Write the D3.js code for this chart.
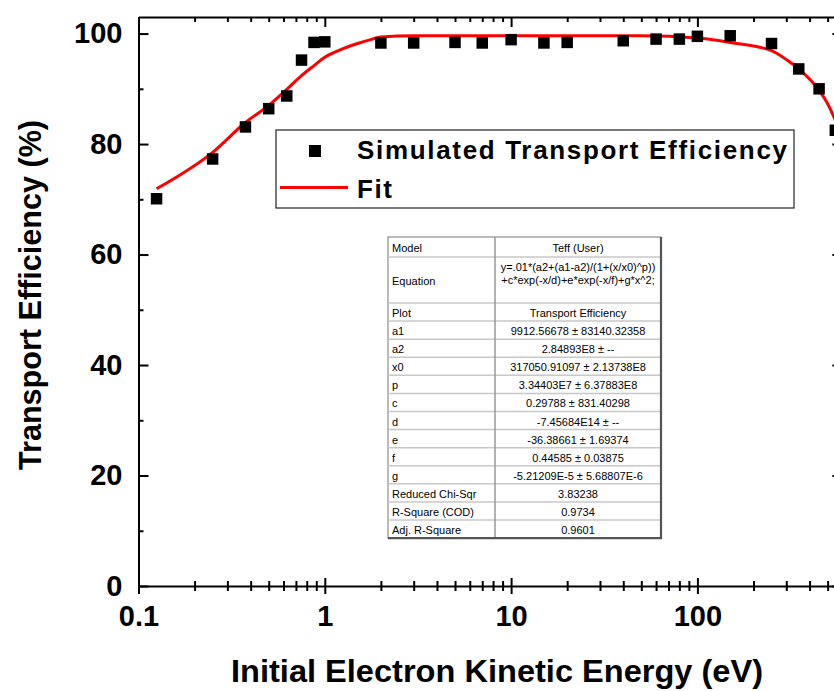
<!DOCTYPE html>
<html>
<head>
<meta charset="utf-8">
<script src="https://cdn.jsdelivr.net/npm/d3@7"></script>
<style>
  body { margin: 0; background: #fff; }
  svg { display: block; font-family: "Liberation Sans", Arial, sans-serif; }
</style>
</head>
<body>
<svg id="chart" width="834" height="691"></svg>
<script>
// simulated points (eV, %)
const energies = [0.125, 0.25, 0.375, 0.5, 0.625, 0.75, 0.875, 1, 2, 3, 5, 7, 10, 15, 20, 40, 60, 80, 100, 150, 250, 350, 450, 550];
const efficiency = [70.1, 77.3, 83.1, 86.4, 88.7, 95.2, 98.4, 98.5, 98.3, 98.3, 98.4, 98.3, 98.9, 98.3, 98.4, 98.7, 99.0, 99.0, 99.5, 99.6, 98.2, 93.6, 90.0, 82.5];

// fit curve
const fitEnergies = [0.125, 0.25, 0.375, 0.5, 0.625, 0.75, 0.875, 1, 1.2, 1.5, 1.8, 2, 3, 10, 50, 100, 150, 250, 300, 350, 450, 500, 550];
const fitValues = [71.9, 78.5, 83.9, 87.0, 89.9, 92.4, 94.2, 95.7, 97.0, 98.2, 99.0, 99.4, 99.6, 99.6, 99.6, 99.2, 98.4, 96.9, 95.3, 93.6, 89.7, 87.3, 84.3];

const xMajor = [0.1, 1, 10, 100];
const yMajor = [0, 20, 40, 60, 80, 100];
const yMinor = [10, 30, 50, 70, 90];

// fit report table
const tableLabels = ["Model", "Equation", "Plot", "a1", "a2", "x0", "p", "c", "d", "e", "f", "g", "Reduced Chi-Sqr", "R-Square (COD)", "Adj. R-Square"];
const tableValues = [
  ["Teff (User)"],
  ["y=.01*(a2+(a1-a2)/(1+(x/x0)^p))", "+c*exp(-x/d)+e*exp(-x/f)+g*x^2;"],
  ["Transport Efficiency"],
  ["9912.56678 \u00b1 83140.32358"],
  ["2.84893E8 \u00b1 --"],
  ["317050.91097 \u00b1 2.13738E8"],
  ["3.34403E7 \u00b1 6.37883E8"],
  ["0.29788 \u00b1 831.40298"],
  ["-7.45684E14 \u00b1 --"],
  ["-36.38661 \u00b1 1.69374"],
  ["0.44585 \u00b1 0.03875"],
  ["-5.21209E-5 \u00b1 5.68807E-6"],
  ["3.83238"],
  ["0.9734"],
  ["0.9601"]
];

const svg = d3.select("#chart");
const plotLeft = 138.5, plotBottom = 586, plotTop = 17;
const x = d3.scaleLog().domain([0.1, 600]).range([plotLeft, plotLeft + 186.3 * Math.log10(6000)]);
const y = d3.scaleLinear().domain([0, 103]).range([plotBottom, plotTop]);
const plotRight = x.range()[1];

const xMinor = x.ticks().filter(v => !xMajor.some(m => Math.abs(m - v) < 1e-9));

function styleAxis(g, showDomain) {
  g.selectAll("line").attr("stroke", "#000").attr("stroke-width", 2);
  g.select(".domain").attr("stroke", showDomain ? "#000" : "none").attr("stroke-width", 2);
  g.selectAll("text").attr("font-size", 29).attr("font-weight", "bold").attr("fill", "#000")
    .attr("font-family", "Liberation Sans, Arial, sans-serif");
}

// bottom axis: crossing ticks
svg.append("g").attr("transform", `translate(0,${plotBottom})`)
  .call(d3.axisBottom(x).tickValues(xMajor).tickSize(8).tickSizeOuter(0).tickPadding(11).tickFormat(d3.format("~g")))
  .call(g => styleAxis(g, true));
svg.append("g").attr("transform", `translate(0,${plotBottom})`)
  .call(d3.axisTop(x).tickValues(xMajor).tickSize(8).tickSizeOuter(0).tickFormat(""))
  .call(g => styleAxis(g, false));
svg.append("g").attr("transform", `translate(0,${plotBottom})`)
  .call(d3.axisBottom(x).tickValues(xMinor).tickSize(5).tickSizeOuter(0).tickFormat(""))
  .call(g => styleAxis(g, false));
svg.append("g").attr("transform", `translate(0,${plotBottom})`)
  .call(d3.axisTop(x).tickValues(xMinor).tickSize(5).tickSizeOuter(0).tickFormat(""))
  .call(g => styleAxis(g, false));

// top axis: inward ticks
svg.append("g").attr("transform", `translate(0,${plotTop})`)
  .call(d3.axisBottom(x).tickValues(xMajor).tickSize(10).tickSizeOuter(0).tickFormat(""))
  .call(g => styleAxis(g, true));
svg.append("g").attr("transform", `translate(0,${plotTop})`)
  .call(d3.axisBottom(x).tickValues(xMinor).tickSize(5).tickSizeOuter(0).tickFormat(""))
  .call(g => styleAxis(g, false));

// left axis: inward ticks, labels outside
svg.append("g").attr("transform", `translate(${plotLeft},0)`)
  .call(d3.axisLeft(y).tickValues(yMajor).tickSize(0).tickSizeOuter(0).tickPadding(16))
  .call(g => styleAxis(g, true));
svg.append("g").attr("transform", `translate(${plotLeft},0)`)
  .call(d3.axisRight(y).tickValues(yMajor).tickSize(10).tickSizeOuter(0).tickFormat(""))
  .call(g => styleAxis(g, false));
svg.append("g").attr("transform", `translate(${plotLeft},0)`)
  .call(d3.axisRight(y).tickValues(yMinor).tickSize(5).tickSizeOuter(0).tickFormat(""))
  .call(g => styleAxis(g, false));

// right axis
svg.append("g").attr("transform", `translate(${plotRight},0)`)
  .call(d3.axisLeft(y).tickValues(yMajor).tickSize(10).tickSizeOuter(0).tickFormat(""))
  .call(g => styleAxis(g, true));
svg.append("g").attr("transform", `translate(${plotRight},0)`)
  .call(d3.axisLeft(y).tickValues(yMinor).tickSize(5).tickSizeOuter(0).tickFormat(""))
  .call(g => styleAxis(g, false));

// axis titles
svg.append("text").attr("x", 497).attr("y", 682).attr("text-anchor", "middle")
  .attr("font-size", 32).attr("font-weight", "bold")
  .attr("textLength", 532).attr("lengthAdjust", "spacingAndGlyphs")
  .text("Initial Electron Kinetic Energy (eV)");
svg.append("text").attr("transform", "translate(41,295) rotate(-90)").attr("text-anchor", "middle")
  .attr("font-size", 32).attr("font-weight", "bold")
  .attr("textLength", 350).attr("lengthAdjust", "spacingAndGlyphs")
  .text("Transport Efficiency (%)");

// fit table
const tx = 388, tcol = 495, tr = 661, ttop = 237;
const rowH = tableLabels.map((d, i) => i === 0 ? 20 : i === 1 ? 46 : 18.08);
const rowY = [];
rowH.reduce((acc, h) => { rowY.push(acc); return acc + h; }, ttop);
const tbottom = rowY[rowY.length - 1] + rowH[rowH.length - 1];
const tab = svg.append("g").attr("font-size", 11).attr("fill", "#000");
tab.append("rect").attr("x", tx).attr("y", ttop).attr("width", tr - tx).attr("height", tbottom - ttop)
  .attr("fill", "#fff").attr("stroke", "#777").attr("stroke-width", 1);
tab.selectAll("line.row").data(rowY.slice(1)).enter().append("line").attr("class", "row")
  .attr("x1", tx).attr("x2", tr).attr("y1", d => d).attr("y2", d => d)
  .attr("stroke", "#c8c8c8").attr("stroke-width", 1.5);
tab.append("line").attr("x1", tcol).attr("x2", tcol).attr("y1", ttop).attr("y2", tbottom)
  .attr("stroke", "#999").attr("stroke-width", 1.5);
// shadow edges
tab.append("path").attr("d", `M${tr},${ttop}V${tbottom}H${tx}`).attr("fill", "none")
  .attr("stroke", "#555").attr("stroke-width", 2.2);
tab.selectAll("text.lab").data(tableLabels).enter().append("text").attr("class", "lab")
  .attr("x", tx + 4).attr("y", (d, i) => rowY[i] + rowH[i] / 2 + 1).attr("dominant-baseline", "central")
  .text(d => d);
tableValues.forEach((vals, i) => {
  vals.forEach((v, j) => {
    const yy = vals.length > 1 ? rowY[i] + 10 + j * 13.4 : rowY[i] + rowH[i] / 2 + 1;
    tab.append("text").attr("x", (tcol + tr) / 2).attr("y", yy).attr("text-anchor", "middle")
      .attr("dominant-baseline", "central").text(v);
  });
});

// fit line
const fitData = fitEnergies.map((e, i) => ({ e, v: fitValues[i] }));
svg.append("path").datum(fitData)
  .attr("fill", "none").attr("stroke", "#ff0000").attr("stroke-width", 3)
  .attr("d", d3.line().x(d => x(d.e)).y(d => y(d.v)).curve(d3.curveMonotoneX));

// simulated points
const pts = energies.map((e, i) => ({ e, v: efficiency[i] }));
svg.append("g").selectAll("path").data(pts).enter().append("path")
  .attr("transform", d => `translate(${x(d.e)},${y(d.v)})`)
  .attr("d", d3.symbol().type(d3.symbolSquare).size(132)).attr("fill", "#000");

// legend
const legendText = ["Simulated Transport Efficiency", "Fit"];
const lg = svg.append("g");
lg.append("rect").attr("x", 276).attr("y", 130).attr("width", 518).attr("height", 78)
  .attr("fill", "#fff").attr("stroke", "#222").attr("stroke-width", 1.2);
lg.append("path").attr("transform", "translate(315,151)")
  .attr("d", d3.symbol().type(d3.symbolSquare).size(144)).attr("fill", "#000");
lg.append("line").attr("x1", 280).attr("x2", 348).attr("y1", 187.5).attr("y2", 187.5)
  .attr("stroke", "#ff0000").attr("stroke-width", 3);
lg.selectAll("text").data(legendText).enter().append("text")
  .attr("x", 357).attr("y", (d, i) => 159 + i * 39).attr("font-size", 26).attr("font-weight", "bold")
  .attr("textLength", (d, i) => i === 0 ? 430 : 35).attr("lengthAdjust", "spacing")
  .text(d => d);
</script>
</body>
</html>
